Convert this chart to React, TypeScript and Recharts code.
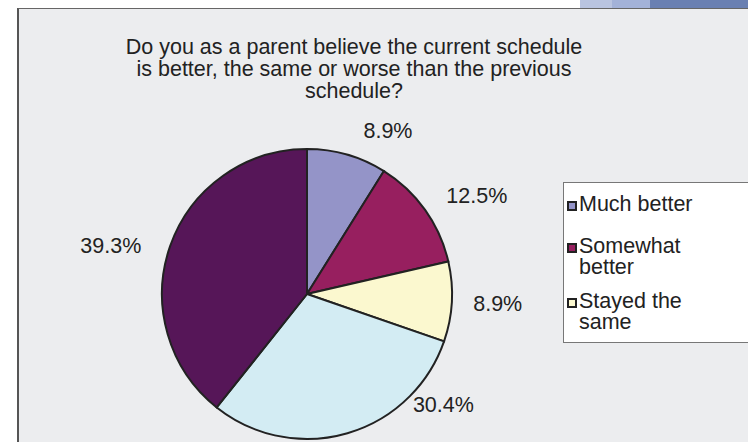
import React from 'react';
import { PieChart, Pie, Cell, Legend } from 'recharts';

const title = [
  'Do you as a parent believe the current schedule',
  'is better, the same or worse than the previous',
  'schedule?',
];
const categories = ['Much better', 'Somewhat better', 'Stayed the same', 'Somewhat worse', 'Much worse'];
const percents = [8.9, 12.5, 8.9, 30.4, 39.3];
const colors = ['#9494c8', '#971f5f', '#fbf8cf', '#d3ecf3', '#561658'];
const legendShown = 3;

// label placement style (Excel "best fit" offsets), degrees / pixels beyond the rim
const labelAngleShift = [-10.4, -5.5, 0, 34.6, 5.5];
const labelGap = [37, 51, 46, 31, 57];

const data = categories.map((name, i) => ({ name, value: percents[i] }));

const FONT = '"Liberation Sans", Arial, sans-serif';
const FS = 21.5;
const W = 748;
const H = 442;

const renderLabel = (p: any) => {
  const RAD = Math.PI / 180;
  const i = p.index;
  const r = p.outerRadius + labelGap[i];
  const a = (p.midAngle + labelAngleShift[i]) * RAD;
  const x = p.cx + r * Math.cos(-a);
  const y = p.cy + r * Math.sin(-a);
  return (
    <text key={`l${i}`} x={x} y={y} textAnchor="middle" dominantBaseline="central" fill="#222" fontSize={FS} fontFamily={FONT}>
      {p.value.toFixed(1)}%
    </text>
  );
};

const LegendBox = () => {
  const items = categories.slice(0, legendShown);
  return (
    <div style={{ width: 200, height: 161, background: '#fff', border: '1px solid #777', boxSizing: 'border-box', paddingTop: 11, paddingLeft: 3, fontFamily: FONT, fontSize: FS, lineHeight: '21px', color: '#222' }}>
      {items.map((name, i) => (
        <div key={name} style={{ display: 'flex', alignItems: 'flex-start', marginBottom: i === 0 ? 21 : 13 }}>
          <div style={{ width: 6, height: 6, border: '2px solid #222', background: colors[i], marginTop: 7, marginRight: 2, flex: 'none' }} />
          <div style={{ width: 125 }}>{name}</div>
        </div>
      ))}
    </div>
  );
};

export default function App() {
  return (
    <div style={{ position: 'absolute', left: 0, top: 0, width: W, height: H, background: '#fff', overflow: 'hidden' }}>
      <div style={{ position: 'absolute', left: 580, top: 0, width: 32, height: 8, background: '#b9c4e0' }} />
      <div style={{ position: 'absolute', left: 612, top: 0, width: 38, height: 8, background: '#a3b2d8' }} />
      <div style={{ position: 'absolute', left: 650, top: 0, width: 98, height: 8, background: '#6a80b2' }} />
      <div style={{ position: 'absolute', left: 17, top: 8, width: W, height: H, background: '#ecedef', borderLeft: '2px solid #555', borderTop: '1px solid #666' }} />
      <div style={{ position: 'absolute', left: 0, top: 0 }}>
        <PieChart width={W} height={H} margin={{ top: 0, right: 0, bottom: 0, left: 0 }}>
          {title.map((t, i) => (
            <text key={t} x={354} y={47 + i * 22} textAnchor="middle" dominantBaseline="central" fill="#222" fontSize={FS} fontFamily={FONT}>
              {t}
            </text>
          ))}
          <Pie
            data={data}
            dataKey="value"
            nameKey="name"
            cx={307}
            cy={294}
            outerRadius={145}
            startAngle={90}
            endAngle={-270}
            stroke="#222"
            strokeWidth={2}
            label={renderLabel}
            labelLine={false}
            isAnimationActive={false}
          >
            {data.map((d, i) => (
              <Cell key={d.name} fill={colors[i]} />
            ))}
          </Pie>
          <Legend
            content={<LegendBox />}
            wrapperStyle={{ position: 'absolute', left: 563, top: 182, width: 200 }}
          />
        </PieChart>
      </div>
    </div>
  );
}
